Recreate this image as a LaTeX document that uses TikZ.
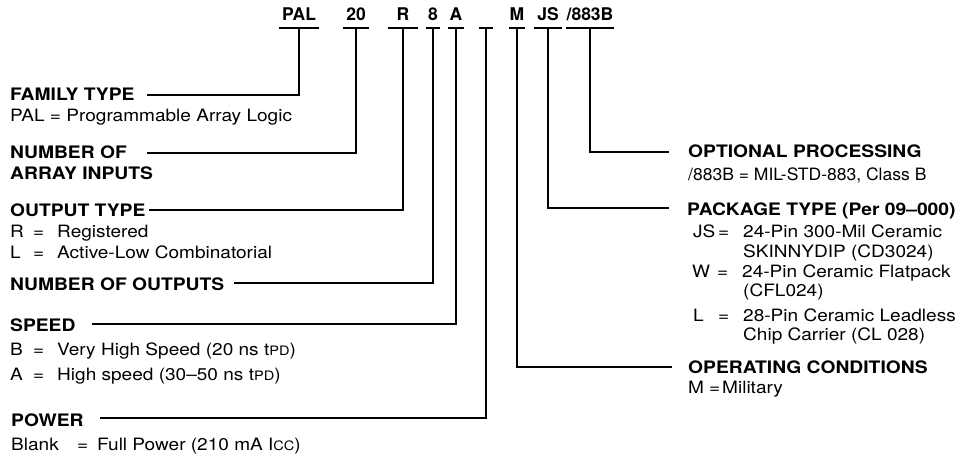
\documentclass[tikz,border=0pt]{standalone}
\usepackage{fontspec}
\setmainfont{TeX Gyre Heros}
\newfontfamily\labfont{TeX Gyre Heros}[FakeStretch=1.12]
\newcommand\codefont{\fontsize{17.5}{20}\selectfont\bfseries}
\newcommand\headfont{\labfont\fontsize{17.2}{20}\selectfont\bfseries}
\newcommand\descfont{\labfont\fontsize{17}{20}\selectfont}
\newcommand\smc[1]{{\fontsize{13}{13}\selectfont #1}}
\newcommand\eqrow[2]{\makebox[23pt][l]{#1}\makebox[24pt][l]{=}#2}
\newcommand\pkrow[2]{\makebox[25pt][l]{#1}\makebox[25pt][l]{=}#2}
\tikzset{
  code/.style={font=\codefont, anchor=south, inner xsep=0pt, inner ysep=7pt, text depth=0pt},
  head/.style={font=\headfont, anchor=base west, inner sep=0pt},
  desc/.style={font=\descfont, anchor=base west, inner sep=0pt},
  lead/.style={line width=1.7pt}
}
\begin{document}
\begin{tikzpicture}[x=1pt,y=-1pt]
\useasboundingbox (0,0) rectangle (966,457);
% code letters
\node[code, minimum width=40pt] (cPAL) at (299,28) {PAL};
\node[code, minimum width=26pt] (c20) at (356,28) {20};
\node[code, minimum width=30pt] (cR) at (403,28) {R};
\node[code, minimum width=14pt] (c8) at (433,28) {8};
\node[code, minimum width=16pt] (cA) at (456,28) {A};
\node[code, minimum width=14pt] (cBl) at (486,28) {};
\node[code, minimum width=16pt] (cM) at (517,28) {M};
\node[code, minimum width=28pt] (cJS) at (548,28) {JS};
\node[code, minimum width=46pt] (c883) at (590,28) {/883B};
\foreach \c in {cPAL,c20,cR,c8,cA,cBl,cM,cJS,c883}
  \draw[lead] (\c.south west) -- (\c.south east);
% left labels
\node[head] (hFam) at (10,101) {FAMILY TYPE};
\node[desc] (dFam) at (10,122) {PAL = Programmable Array Logic};
\node[head] (hIn1) at (10,159) {NUMBER OF};
\node[head] (hIn2) at (10,180) {ARRAY INPUTS};
\node[head] (hOut) at (10,216) {OUTPUT TYPE};
\node[desc] (dOutR) at (10,237) {\eqrow{R}{Registered}};
\node[desc] (dOutL) at (10,258) {\eqrow{L}{Active-Low Combinatorial}};
\node[head] (hNum) at (10,290) {NUMBER OF OUTPUTS};
\node[head] (hSpd) at (10,331) {SPEED};
\node[desc] (dSpdB) at (10,355) {\eqrow{B}{Very High Speed (20 ns t\smc{PD})}};
\node[desc] (dSpdA) at (10,380) {\eqrow{A}{High speed (30\textendash 50 ns t\smc{PD})}};
\node[head] (hPow) at (11,426) {POWER};
\node[desc] (dPow) at (11,450) {\makebox[66pt][l]{Blank}\makebox[20pt][l]{=}Full Power (210 mA I\smc{CC})};
% right labels
\node[head] (hOpt) at (688,158) {OPTIONAL PROCESSING};
\node[desc] (dOpt) at (688,181) {\scalebox{0.92}[1]{/883B = MIL-STD-883, Class B}};
\node[head] (hPkg) at (687,215) {PACKAGE TYPE (Per 09\textendash 000)};
\node[desc] (dJS) at (693,237) {\pkrow{JS}{24-Pin 300-Mil Ceramic}};
\node[desc] (dJS2) at (743,257) {SKINNYDIP (CD3024)};
\node[desc] (dW) at (692,277) {\pkrow{W}{24-Pin Ceramic Flatpack}};
\node[desc] (dW2) at (743,296) {(CFL024)};
\node[desc] (dL) at (693,321) {\pkrow{L}{28-Pin Ceramic Leadless}};
\node[desc] (dL2) at (743,340) {Chip Carrier (CL 028)};
\node[head] (hOp) at (688,373) {OPERATING CONDITIONS};
\node[desc] (dOp) at (688,393) {\makebox[21pt][l]{M}\makebox[13pt][l]{=}Military};
% connector free ends
\coordinate (eFam) at (147,95);
\coordinate (eIn) at (147,153);
\coordinate (eOut) at (149,210);
\coordinate (eNum) at (234,283);
\coordinate (eSpd) at (92,324);
\coordinate (ePow) at (100,418);
\coordinate (eOpt) at (669,152);
\coordinate (ePkg) at (669,208);
\coordinate (eOp) at (672,367);
% connectors
\draw[lead] (cPAL.south) |- (eFam);
\draw[lead] (c20.south) |- (eIn);
\draw[lead] (cR.south) |- (eOut);
\draw[lead] (c8.south) |- (eNum);
\draw[lead] (cA.south) |- (eSpd);
\draw[lead] (cBl.south) |- (ePow);
\draw[lead] (cM.south) |- (eOp);
\draw[lead] (cJS.south) |- (ePkg);
\draw[lead] (c883.south) |- (eOpt);
\end{tikzpicture}
\end{document}
